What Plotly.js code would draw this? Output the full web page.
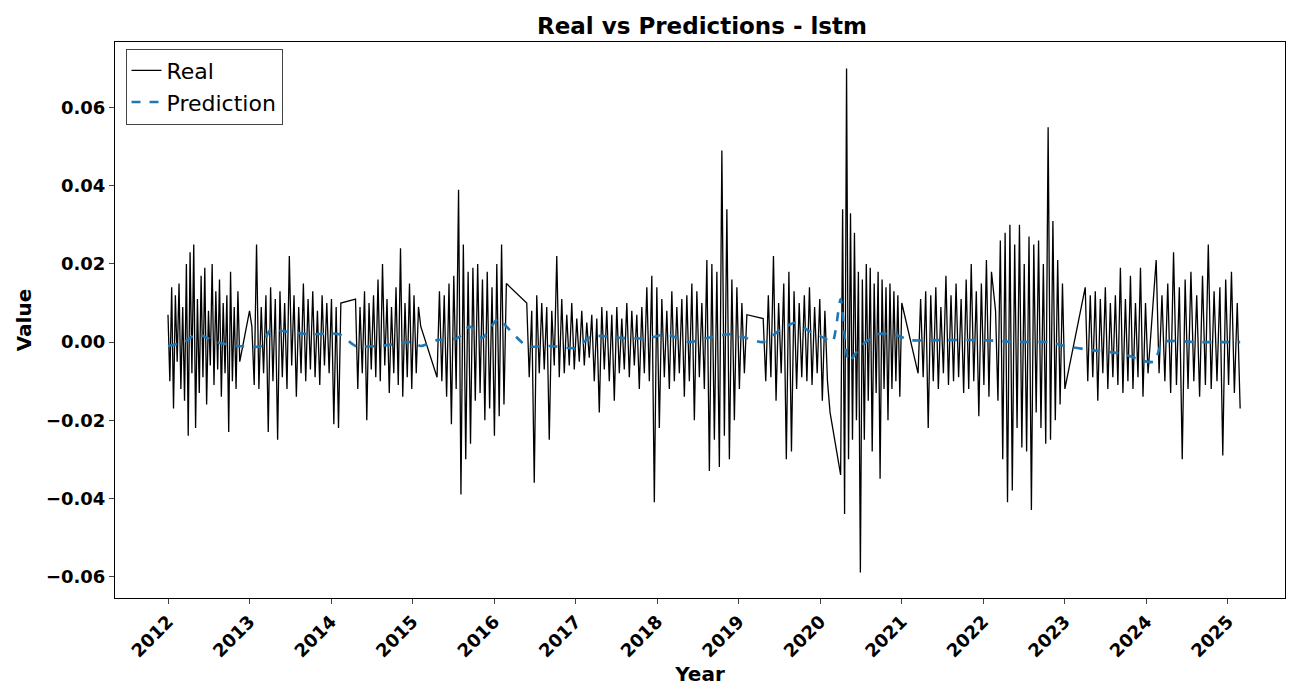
<!DOCTYPE html>
<html>
<head>
<meta charset="utf-8">
<script src="https://cdn.plot.ly/plotly-3.0.1.min.js"></script>
<style>body{margin:0}</style>
</head>
<body>
<div id="chart" style="width:1300px;height:700px"></div>
<script>
// real series, stored per segment (start year, end year, values)
var segStart = [2012.0, 2013.0, 2014.3, 2015.3, 2016.4, 2019.3, 2020.25, 2021.2, 2022.15, 2023.25, 2024.12];
var segEnd   = [2012.88, 2014.12, 2015.1, 2016.15, 2019.1, 2020.12, 2021.0, 2022.1, 2023.0, 2024.02, 2025.15];

var real2012 = [.007,-.010,.014,-.017,.012,-.005,.015,-.012,.009,-.015,.020,-.024,.023,-.008,.025,-.022,.011,-.013,.017,-.009,.019,-.016,.008,-.006,.020,-.011,.013,-.007,.016,-.014,.010,-.008,.012,-.023,.018,-.010,.009,-.012,.013,-.005];
var real2013 = [.008,.004,-.011,.025,-.012,.009,-.008,.012,-.023,.014,-.010,.011,-.025,.013,-.009,.010,-.012,.022,-.006,.012,-.014,.009,-.008,.015,-.010,.011,-.007,.013,-.009,.008,-.011,.012,-.006,.010,-.008,.011,-.021,.009,-.022,.010];
var real2014 = [.011,-.012,.009,-.008,.013,-.020,.010,-.007,.012,-.009,.016,-.010,.020,-.006,.011,-.013,.009,-.008,.014,-.011,.024,-.014,.010,-.009,.015,-.012,.012,-.008,.009,.004];
var real2015 = [-.009,.013,-.010,.012,-.014,.015,-.021,.017,-.012,.039,-.039,.025,-.030,.018,-.026,.019,-.015,.020,-.013,.016,-.020,.018,-.017,.014,-.024,.020,-.019,.025,-.016,.015];
var real2016 = [.010,-.009,.008,-.036,.012,-.008,.010,-.007,.009,-.025,.008,-.006,.022,-.009,.011,-.008,.007,-.006,.010,-.007,.006,-.005,.008,-.006,.005,-.004,.007,-.010,.006,-.018,.009,-.007,.008,-.010,.007,-.015,.009,-.008,.006,-.007,.010,-.009,.008,-.006,.007,-.012,.009,-.008,.014,-.010,.017,-.041,.014,-.022,.011,-.009,.008,-.012,.013,-.010,.009,-.008,.011,-.014,.012,-.010,.015,-.020,.013,-.009,.010,-.012,.021,-.033,.020,-.025,.018,-.032,.049,-.024,.034,-.030,.016,-.020,.014,-.012,.010,-.008,.007];
var real2019 = [.006,-.010,.012,-.009,.022,-.015,.010,-.008,.015,-.030,.018,-.028,.013,-.012,.010,-.009,.012,-.010,.014,-.011,.009,-.008,.011,-.015,.008,-.010,-.018];
var real2020 = [-.034,.034,-.044,.070,-.030,.033,-.025,.028,-.020,.018,-.059,.016,-.025,.020,-.015,.019,-.028,.015,-.013,.018,-.035,.016,-.012,.014,-.020,.015,-.012,.013,-.010,.012,-.014,.010];
var real2021 = [-.008,.011,-.009,.013,-.022,.012,-.010,.014,-.012,.009,-.008,.017,-.011,.012,-.010,.015,-.009,.011,-.013,.016,-.012,.020,-.010,.013,-.019,.015,-.011,.021,-.014,.018];
var real2022 = [.008,-.015,.026,-.030,.028,-.041,.030,-.038,.025,-.022,.030,-.027,.020,-.028,.027,-.043,.025,-.018,.026,-.022,.020,-.026,.055,-.025,.031,-.020,.021,-.016,.015,-.012];
var real2023 = [.014,-.010,.012,-.009,.013,-.015,.011,-.008,.014,-.012,.010,-.009,.012,-.011,.019,-.013,.011,-.010,.017,-.012,.010,-.009,.019,-.014,.010,-.008];
var real2024 = [.021,-.008,.012,-.010,.015,-.013,.023,-.011,.014,-.030,.016,-.012,.018,-.010,.012,-.014,.017,-.011,.025,-.012,.013,-.010,.014,-.029,.016,-.011,.018,-.013,.010,-.017];

var predYears = [2012.0,2012.2,2012.35,2012.6,2012.85,2013.15,2013.25,2013.5,2013.75,2014.1,2014.3,2014.6,2015.0,2015.1,2015.3,2015.55,2015.7,2015.85,2016.05,2016.15,2016.4,2016.7,2017.0,2017.2,2017.6,2017.9,2018.1,2018.4,2018.6,2018.9,2019.1,2019.3,2019.5,2019.7,2019.85,2020.05,2020.15,2020.25,2020.35,2020.5,2020.7,2020.9,2021.1,2021.5,2022.0,2022.4,2022.8,2023.0,2023.3,2023.7,2024.0,2024.1,2024.2,2024.6,2025.15];
var predValues = [-.001,0,.002,0,-.001,-.001,.003,.0025,.002,.002,-.001,-.001,0,-.001,.0005,.001,.004,.001,.006,.004,-.001,-.001,-.0015,.0015,.001,.001,.002,0,.001,.002,.001,0,.003,.005,.003,.001,0,.011,-.005,-.001,.002,.002,.0005,.0005,.0005,0,0,-.001,-.002,-.003,-.005,-.005,0,0,0];

var yearTicks = [2012,2013,2014,2015,2016,2017,2018,2019,2020,2021,2022,2023,2024,2025];

var segs = [real2012, real2013, real2014, real2015, real2016, real2019, real2020, real2021, real2022, real2023, real2024];
var realX = [], realY = [];
segs.forEach(function (vals, i) {
  var n = vals.length;
  vals.forEach(function (v, j) {
    realX.push(segStart[i] + (segEnd[i] - segStart[i]) * j / (n - 1));
    realY.push(v);
  });
});

var real = {
  x: realX, y: realY, name: 'Real', type: 'scatter', mode: 'lines',
  line: {color: 'black', width: 1.3}
};
var pred = {
  x: predYears, y: predValues, name: 'Prediction', type: 'scatter', mode: 'lines',
  line: {color: '#1f77b4', width: 2.6, dash: 'dash', shape: 'spline', smoothing: 0.6}
};

var axisFont = {family: 'DejaVu Sans', size: 18, color: 'black', weight: 'bold'};
var layout = {
  width: 1300, height: 700,
  margin: {l: 115, r: 15, t: 42, b: 102},
  paper_bgcolor: 'white', plot_bgcolor: 'white',
  font: {family: 'DejaVu Sans', color: 'black'},
  title: {text: '<b>Real vs Predictions - lstm</b>', font: {size: 23}, x: 0.54, y: 0.975},
  xaxis: {
    range: [2011.35, 2025.7], tickvals: yearTicks, ticktext: yearTicks.map(String),
    tickangle: -45, tickfont: axisFont, showgrid: false, zeroline: false,
    showline: true, mirror: true, linecolor: 'black', ticks: 'outside', ticklen: 5,
    title: {text: '<b>Year</b>', font: {size: 20}, standoff: 6}
  },
  yaxis: {
    range: [-0.0655, 0.0768], tickvals: [-0.06,-0.04,-0.02,0,0.02,0.04,0.06],
    ticktext: ['\u22120.06','\u22120.04','\u22120.02','0.00','0.02','0.04','0.06'],
    tickfont: axisFont, showgrid: false, zeroline: false,
    showline: true, mirror: true, linecolor: 'black', ticks: 'outside', ticklen: 5,
    title: {text: '<b>Value</b>', font: {size: 20}, standoff: 8}
  },
  legend: {
    x: 0.009, y: 0.988, xanchor: 'left', yanchor: 'top',
    bgcolor: 'white', bordercolor: '#444', borderwidth: 1,
    font: {size: 22, family: 'DejaVu Sans'}
  }
};

Plotly.newPlot('chart', [real, pred], layout, {staticPlot: true});
</script>
</body>
</html>
